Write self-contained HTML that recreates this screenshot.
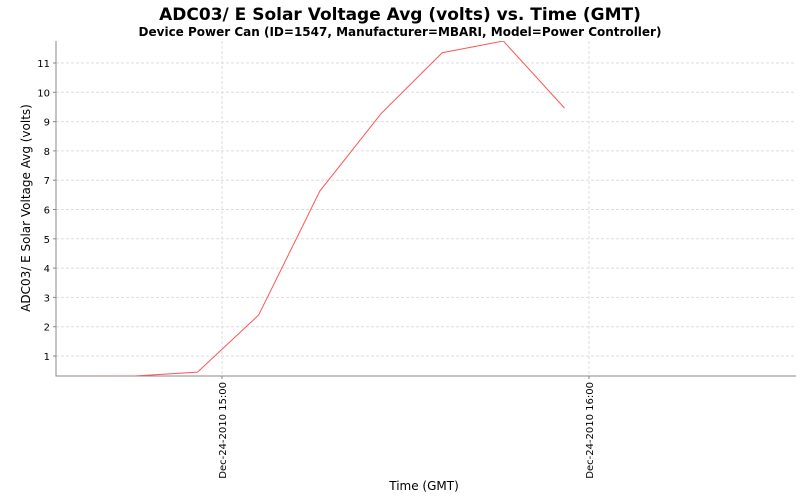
<!DOCTYPE html>
<html><head><meta charset="utf-8"><style>
body{margin:0;background:#fff;}
svg{display:block;font-family:"DejaVu Sans","Liberation Sans",sans-serif;}
</style></head><body>
<svg id="c" width="800" height="500">
<text x="400" y="20" text-anchor="middle" font-size="17" font-weight="bold">ADC03/ E Solar Voltage Avg (volts) vs. Time (GMT)</text>
<text x="400" y="36" text-anchor="middle" font-size="12" font-weight="bold">Device Power Can (ID=1547, Manufacturer=MBARI, Model=Power Controller)</text>
<g id="grid"></g>
<g id="axes"></g>
<g id="series" clip-path="url(#clip)"></g>
<defs><clipPath id="clip"><rect x="56" y="41" width="740" height="335"/></clipPath></defs>
<text transform="translate(30,208) rotate(-90)" text-anchor="middle" font-size="12">ADC03/ E Solar Voltage Avg (volts)</text>
<text x="424" y="490" text-anchor="middle" font-size="12">Time (GMT)</text>
</svg>
<script>
const times=[-34,-24,-14,-4,6,16,26,36,46,56];
const values=[0.3,0.3,0.32,0.45,2.4,6.63,9.27,11.35,11.75,9.46];
const yTicks=[1,2,3,4,5,6,7,8,9,10,11];
const xTickMins=[0,60];
const xTickLabels=["Dec-24-2010 15:00","Dec-24-2010 16:00"];
const L=56,R=796,T=41,B=376;
function xs(m){return 222+m*(367/60);}
function ys(v){return 356-(v-1)*29.3;}
const NS="http://www.w3.org/2000/svg";
const grid=document.getElementById('grid'),axes=document.getElementById('axes'),ser=document.getElementById('series');
function mk(tag,at,parent){const e=document.createElementNS(NS,tag);for(const k in at)e.setAttribute(k,at[k]);parent.appendChild(e);return e;}
yTicks.forEach(v=>{
 const y=ys(v);
 const g=mk('line',{x1:L,x2:R,y1:y,y2:y,stroke:'#ddd','stroke-dasharray':'3,2'},grid);
 
 
 const tk=mk('line',{x1:L-3,x2:L,y1:y,y2:y,stroke:'#888'},axes);
 
 
 const t=mk('text',{x:L-6,y:y+4,'text-anchor':'end','font-size':'10'},axes);
 t.textContent=v;
 
 
});
xTickMins.forEach((m,i)=>{
 const x=xs(m);
 const g=mk('line',{x1:x,x2:x,y1:T,y2:B,stroke:'#ddd','stroke-dasharray':'3,2'},grid);
 
 
 const tk=mk('line',{x1:x,x2:x,y1:B,y2:B+3,stroke:'#888'},axes);
 
 
 const t=mk('text',{transform:`translate(${x+4},${B+6}) rotate(-90)`,'text-anchor':'end','font-size':'10'},axes);
 t.textContent=xTickLabels[i];
 
 
});
const ax=mk('path',{d:`M${L},${T}V${B}H${R}`,fill:'none',stroke:'#888'},axes);


const pl=mk('polyline',{points:times.map((m,i)=>xs(m)+','+ys(values[i])).join(' '),fill:'none',stroke:'#ff5555','stroke-width':'1'},ser);


</script>
</body></html>
